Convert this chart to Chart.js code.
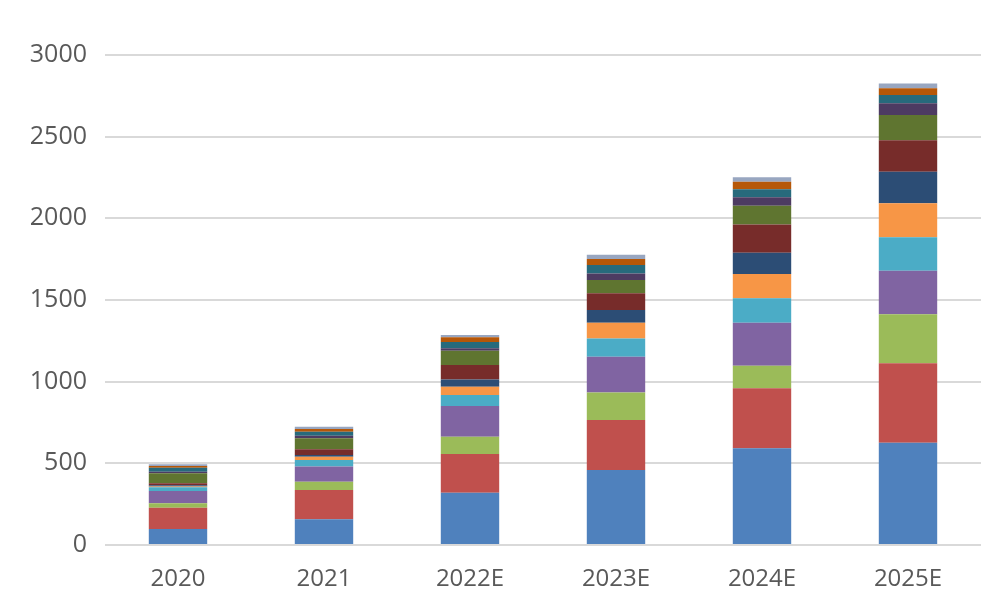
<!DOCTYPE html>
<html>
<head>
<meta charset="utf-8">
<script src="https://cdn.jsdelivr.net/npm/chart.js@4"></script>
<style>
  html, body { margin: 0; padding: 0; background: #fff; }
  #wrap { width: 1000px; height: 612px; }
</style>
</head>
<body>
<div id="wrap"><canvas id="myChart" width="1000" height="612"></canvas></div>
<script>
const years = ['2020', '2021', '2022E', '2023E', '2024E', '2025E'];
const yTicks = [0, 500, 1000, 1500, 2000, 2500, 3000];

// stacked segments, bottom to top
const s1  = [98, 157, 320, 459, 592, 626];
const s2  = [130, 180, 237, 306, 367, 486];
const s3  = [27, 51, 106, 168, 139, 300];
const s4  = [76, 92, 188, 220, 263, 267];
const s5  = [22, 40, 67, 112, 149, 205];
const s6  = [5, 21, 51, 96, 149, 208];
const s7  = [8, 10, 45, 78, 131, 193];
const s8  = [12, 35, 88, 102, 173, 193];
const s9  = [61, 67, 88, 81, 114, 154];
const s10 = [10, 16, 14, 41, 52, 72];
const s11 = [24, 25, 39, 51, 49, 51];
const s12 = [11, 16, 29, 37, 46, 41];
const s13 = [10, 14, 14, 26, 27, 30];

const series = [s1, s2, s3, s4, s5, s6, s7, s8, s9, s10, s11, s12, s13];
const colors = ['#4F81BD', '#C0504D', '#9BBB59', '#8064A2', '#4BACC6', '#F79646',
                '#2C4D75', '#772C2A', '#5F7530', '#4D3B62', '#276A7C', '#B65708', '#98A6C0'];

const datasets = series.map((d, i) => ({
    label: '系列' + (i + 1),
    data: d,
    backgroundColor: colors[i],
    borderWidth: 0,
    barPercentage: 0.4,
    categoryPercentage: 1.0
}));

const config = {
    type: 'bar',
    data: { labels: years, datasets: datasets },
    options: {
        responsive: false,
        animation: false,
        layout: { padding: { left: 0, right: 19, top: 55, bottom: 0 } },
        plugins: {
            legend: { display: false },
            tooltip: { enabled: false }
        },
        scales: {
            x: {
                stacked: true,
                grid: { display: false, drawTicks: false },
                border: { display: false },
                ticks: {
                    color: '#595959',
                    font: { family: 'Open Sans', size: 24 },
                    padding: 20
                },
                afterFit: (scale) => { scale.height = 67; }
            },
            y: {
                stacked: true,
                min: 0,
                max: 3000,
                afterBuildTicks: (scale) => { scale.ticks = yTicks.map(v => ({ value: v })); },
                grid: { color: '#D9D9D9', lineWidth: 2, drawTicks: false },
                border: { display: false },
                ticks: {
                    color: '#595959',
                    font: { family: 'Open Sans', size: 25 },
                    padding: 18,
                    callback: (v) => String(v)
                },
                afterFit: (scale) => { scale.width = 105; }
            }
        }
    }
};

new Chart(document.getElementById('myChart'), config);
</script>
</body>
</html>
